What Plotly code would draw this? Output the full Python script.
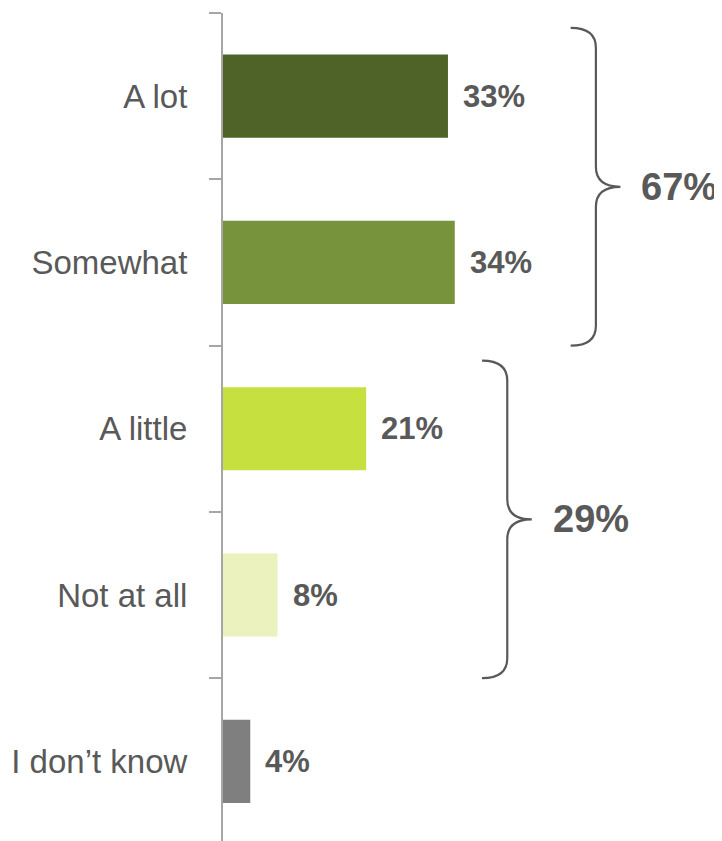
import plotly.graph_objects as go

categories = ["A lot", "Somewhat", "A little", "Not at all", "I don\u2019t know"]
values = [33, 34, 21, 8, 4]
bar_colors = ["#4F6228", "#77933C", "#C5E03F", "#EBF2BE", "#7F7F7F"]
value_labels = ["33%", "34%", "21%", "8%", "4%"]
groups = [(0, 1), (2, 3)]  # index ranges (inclusive) of bracketed groups

FONT = "Liberation Sans, Arial, sans-serif"
TEXT = "#595959"
AXIS = "#A6A6A6"

ypos = list(range(len(categories)))

fig = go.Figure()
fig.add_trace(go.Bar(
    x=values, y=ypos, orientation="h", width=0.5,
    marker=dict(color=bar_colors, line=dict(width=0)),
    hoverinfo="skip", showlegend=False,
))

for v, y, t in zip(values, ypos, value_labels):
    fig.add_annotation(x=v, y=y, text=f"<b>{t}</b>", showarrow=False,
                       xanchor="left", yanchor="middle", xshift=13,
                       font=dict(family=FONT, size=31, color=TEXT))

# brackets
for (a, b) in groups:
    m = max(values[a:b + 1])
    total = sum(values[a:b + 1])
    x0 = m + 17
    xv = m + 20.7
    xt = m + 24.3
    ytop = a - 0.41
    ybot = b + 0.5
    ymid = (a + b) / 2 + 0.045
    r = 0.12
    path = (f"M {x0},{ytop} Q {xv},{ytop} {xv},{ytop + r} "
            f"L {xv},{ymid - r} Q {xv},{ymid} {xt},{ymid} "
            f"Q {xv},{ymid} {xv},{ymid + r} "
            f"L {xv},{ybot - r} Q {xv},{ybot} {x0},{ybot}")
    fig.add_shape(type="path", path=path, xref="x", yref="y",
                  line=dict(color="#595959", width=2.2))
    fig.add_annotation(x=xt, y=ymid, text=f"<b>{total}%</b>", showarrow=False,
                       xanchor="left", yanchor="middle", xshift=19,
                       font=dict(family=FONT, size=38, color=TEXT))

fig.update_layout(
    width=714, height=833,
    margin=dict(l=215, r=0, t=5, b=0, autoexpand=False),
    paper_bgcolor="white", plot_bgcolor="white",
    xaxis=dict(range=[0, 73.2], visible=False, fixedrange=True, automargin=False),
    yaxis=dict(
        range=[4.479, -0.5], tickmode="array", tickvals=ypos, ticktext=categories,
        ticks="", ticklabelstandoff=27, automargin=False,
        tickfont=dict(family=FONT, size=33, color=TEXT),
        showline=True, linecolor=AXIS, linewidth=2,
        showgrid=False, zeroline=False,
        minor=dict(tickmode="array", tickvals=[-0.5, 0.5, 1.5, 2.5, 3.5],
                   ticks="outside", ticklen=12, tickcolor=AXIS, tickwidth=2,
                   showgrid=False),
    ),
)

fig.write_html("out.html")
